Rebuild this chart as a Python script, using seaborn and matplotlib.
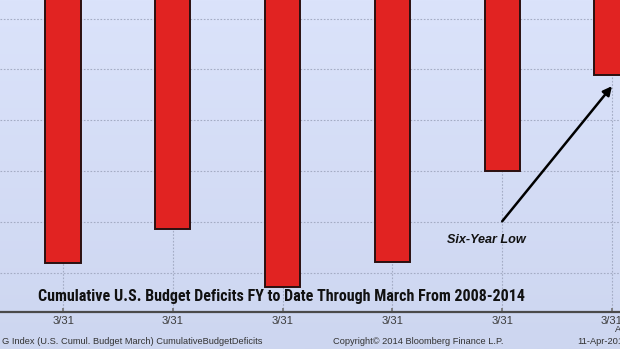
import numpy as np
import pandas as pd
import matplotlib
matplotlib.use("Agg")
import matplotlib.pyplot as plt
import seaborn as sns
from matplotlib import font_manager

# ---- data (billions USD, cumulative deficit through March) ----
years = ["2009", "2010", "2011", "2012", "2013", "2014"]
deficits = [-781, -714, -828, -779, -600, -411]
tick_labels = ["3/31", "3/31", "3/31", "3/31", "3/31", "3/31"]
title = "Cumulative U.S. Budget Deficits FY to Date Through March From 2008-2014"
footer_left = "G Index (U.S. Cumul. Budget March) CumulativeBudgetDeficits"
footer_mid = "Copyright\u00a9 2014 Bloomberg Finance L.P."
footer_right = "11-Apr-2014"
annot_text = "Six-Year Low"

sns.set_theme(style="white")


def wnum(w):
    if isinstance(w, (int, float)):
        return w
    return {"bold": 700, "heavy": 800, "black": 900, "semibold": 600,
            "demibold": 600, "extra bold": 800}.get(str(w).lower(), 400)


bold_fams = {f.name for f in font_manager.fontManager.ttflist if wnum(f.weight) >= 600}


def pick(cands, pool):
    for c in cands:
        if c in pool:
            return c
    return "Liberation Sans"


narrow_bold = pick(["Liberation Sans Narrow", "Arial Narrow", "Archivo Narrow",
                    "Roboto Condensed", "PT Sans Narrow", "Open Sans Condensed",
                    "Encode Sans Condensed", "Fira Sans Condensed"], bold_fams)
foot_font = "Liberation Sans"
plt.rcParams['font.family'] = ["Liberation Sans", "DejaVu Sans"]

W, H = 620, 349
fig = plt.figure(figsize=(W / 100, H / 100), dpi=100)

# background gradient
bg = fig.add_axes([0, 0, 1, 1], zorder=0)
grad = np.linspace(0, 1, 256).reshape(-1, 1)
top = np.array([0xdb, 0xe3, 0xfb]) / 255
bot = np.array([0xcd, 0xd6, 0xf0]) / 255
img = top[None, None, :] * (1 - grad[:, :, None]) + bot[None, None, :] * grad[:, :, None]
bg.imshow(img, aspect="auto", extent=[0, 1, 0, 1])
bg.set_axis_off()

ax_bottom = (H - 312) / H
ax = fig.add_axes([0, ax_bottom, 1, 1 - ax_bottom], zorder=1)
ax.set_facecolor("none")

df = pd.DataFrame({"year": years, "deficit": deficits})
sns.barplot(data=df, x="year", y="deficit", color="#e12322", saturation=1,
            width=0.32, edgecolor="#2a1010", linewidth=1.4, ax=ax, zorder=3)

ax.set_xlim(-0.574, 5.073)
ax.set_ylim(-877.6, -263.4)
ax.set_yticks([-800, -700, -600, -500, -400, -300])
ax.set_xticks(range(len(years)))
ax.set_xticklabels(tick_labels)
ax.grid(True, axis="both", color="#a4acc4", linestyle=(0, (1.5, 1.5)), linewidth=0.8, zorder=0)
ax.set_axisbelow(True)
ax.set_xlabel("")
ax.set_ylabel("")
ax.tick_params(axis="y", left=False, labelleft=False)
ax.tick_params(axis="x", bottom=True, direction="in", length=3, color="#777777",
               labelsize=8, labelcolor="#3a3a3a", pad=3)
for lab in ax.get_xticklabels():
    lab.set_family(foot_font)
for s in ["top", "left", "right"]:
    ax.spines[s].set_visible(False)
ax.spines["bottom"].set_color("#4a4a4a")
ax.spines["bottom"].set_linewidth(1.6)

# annotation
ax.annotate("", xy=(5.0, -433), xytext=(4.0, -699),
            arrowprops=dict(arrowstyle="-|>", color="black", lw=1.8,
                            mutation_scale=13, shrinkA=0, shrinkB=0), zorder=5)
ann = ax.text(3.86, -736, annot_text, ha="center", va="center", fontsize=9.5,
              fontweight="bold", fontstyle="italic", color="#111111", zorder=5)

t_title = fig.text(281 / W, 1 - 297 / H, title, ha="center", va="center", fontsize=12.5,
                   fontweight="bold", family=narrow_bold, color="#111111", zorder=5)
f1 = fig.text(2 / W, 1 - 342 / H, footer_left, ha="left", va="center", fontsize=7,
              family=foot_font, color="#333333", zorder=5)
f2 = fig.text(333 / W, 1 - 342 / H, footer_mid, ha="left", va="center", fontsize=7,
              family=foot_font, color="#333333", zorder=5)
f3 = fig.text(577 / W, 1 - 342 / H, footer_right, ha="left", va="center", fontsize=7,
              family=foot_font, color="#333333", zorder=5)
f4 = fig.text(615 / W, 1 - 330 / H, "Apr", ha="left", va="center", fontsize=7,
              family=foot_font, color="#333333", zorder=5)

# fit text widths to the reference's measured pixel widths
renderer = fig.canvas.get_renderer()
for t, target in [(t_title, 487), (f1, 258), (f2, 170), (ann, 79)]:
    w = t.get_window_extent(renderer).width
    t.set_fontsize(t.get_fontsize() * target / w)
f3.set_fontsize(f1.get_fontsize())
f4.set_fontsize(f1.get_fontsize())

fig.savefig("out.png", dpi=100)
